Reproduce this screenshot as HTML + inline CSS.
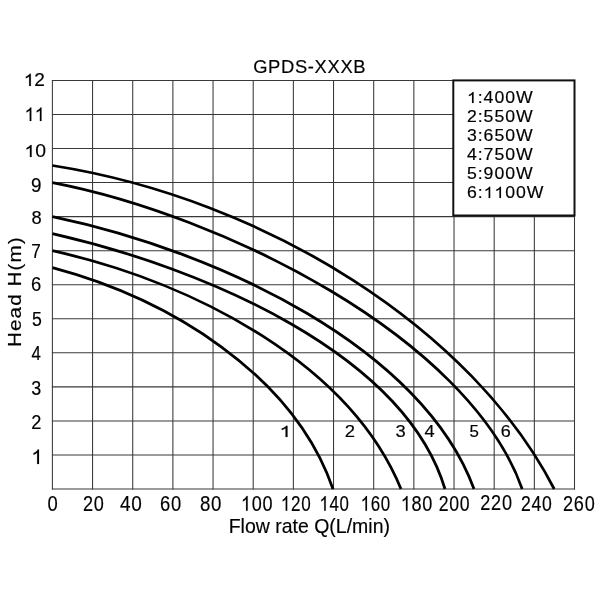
<!DOCTYPE html>
<html><head><meta charset="utf-8"><title>GPDS-XXXB</title>
<style>
html,body{margin:0;padding:0;background:#fff;}
body{width:600px;height:600px;overflow:hidden;font-family:"Liberation Sans",sans-serif;}
svg{display:block;will-change:transform;}
svg text{font-family:"Liberation Sans",sans-serif;fill:#000;stroke:#000;stroke-width:0.16px;stroke-linejoin:round;}
svg g.t path{fill:#000;stroke:#000;stroke-width:16px;stroke-linejoin:round;}
</style></head><body>
<svg width="600" height="600" viewBox="0 0 600 600">
<rect width="600" height="600" fill="#fff"/>
<g stroke="#383838" stroke-width="1.05" fill="none">
<line x1="52.40" y1="79.90" x2="52.40" y2="489.50"/>
<line x1="92.56" y1="79.90" x2="92.56" y2="489.50"/>
<line x1="132.72" y1="79.90" x2="132.72" y2="489.50"/>
<line x1="172.88" y1="79.90" x2="172.88" y2="489.50"/>
<line x1="213.05" y1="79.90" x2="213.05" y2="489.50"/>
<line x1="253.21" y1="79.90" x2="253.21" y2="489.50"/>
<line x1="293.37" y1="79.90" x2="293.37" y2="489.50"/>
<line x1="333.53" y1="79.90" x2="333.53" y2="489.50"/>
<line x1="373.69" y1="79.90" x2="373.69" y2="489.50"/>
<line x1="413.85" y1="79.90" x2="413.85" y2="489.50"/>
<line x1="454.02" y1="79.90" x2="454.02" y2="489.50"/>
<line x1="494.18" y1="79.90" x2="494.18" y2="489.50"/>
<line x1="534.34" y1="79.90" x2="534.34" y2="489.50"/>
<line x1="574.50" y1="79.90" x2="574.50" y2="489.50"/>
<line x1="51.90" y1="80.40" x2="575.00" y2="80.40"/>
<line x1="51.90" y1="114.45" x2="575.00" y2="114.45"/>
<line x1="51.90" y1="148.50" x2="575.00" y2="148.50"/>
<line x1="51.90" y1="182.55" x2="575.00" y2="182.55"/>
<line x1="51.90" y1="216.60" x2="575.00" y2="216.60"/>
<line x1="51.90" y1="250.65" x2="575.00" y2="250.65"/>
<line x1="51.90" y1="284.70" x2="575.00" y2="284.70"/>
<line x1="51.90" y1="318.75" x2="575.00" y2="318.75"/>
<line x1="51.90" y1="352.80" x2="575.00" y2="352.80"/>
<line x1="51.90" y1="386.85" x2="575.00" y2="386.85"/>
<line x1="51.90" y1="420.90" x2="575.00" y2="420.90"/>
<line x1="51.90" y1="454.95" x2="575.00" y2="454.95"/>
<line x1="51.90" y1="489.00" x2="575.00" y2="489.00"/>
</g>
<g stroke="#000" stroke-width="2.75" fill="none" stroke-linecap="butt">
<path d="M52.40,267.70 C168.34,298.62 293.16,373.88 333.00,489.00"/>
<path d="M52.40,250.65 C198.34,283.53 350.42,365.59 401.00,489.00"/>
<path d="M52.40,233.60 C205.37,268.39 404.38,354.04 445.00,489.00"/>
<path d="M52.40,216.60 C221.39,252.01 422.66,348.75 474.00,489.00"/>
<path d="M52.40,182.55 C221.78,215.04 468.18,336.56 522.20,489.00"/>
<path d="M52.40,165.50 C266.98,199.25 472.77,330.10 554.20,489.00"/>
</g>
<rect x="453.3" y="80.4" width="121.2" height="135.1" fill="#fff" stroke="#111" stroke-width="2"/>
<g class="t">
<g transform="matrix(1.1000,0,0,1.0000,467.000,103.100)"><path transform="translate(0.000,0) scale(0.007842,-0.007842)" d="M763 0H583V1098Q518 1039 412.5 979T223 890V1057Q374 1125 487 1221T647 1409H763Z"/><text x="9.792" y="0" font-size="16.06">:</text><text x="15.114" y="0" font-size="16.06">4</text><text x="24.906" y="0" font-size="16.06">0</text><text x="34.697" y="0" font-size="16.06">0</text><text x="44.489" y="0" font-size="16.06">W</text></g>
<g transform="matrix(1.1000,0,0,1.0000,467.000,122.060)"><text x="0.000" y="0" font-size="16.06">2</text><text x="9.792" y="0" font-size="16.06">:</text><text x="15.114" y="0" font-size="16.06">5</text><text x="24.906" y="0" font-size="16.06">5</text><text x="34.697" y="0" font-size="16.06">0</text><text x="44.489" y="0" font-size="16.06">W</text></g>
<g transform="matrix(1.1000,0,0,1.0000,467.000,141.020)"><text x="0.000" y="0" font-size="16.06">3</text><text x="9.792" y="0" font-size="16.06">:</text><text x="15.114" y="0" font-size="16.06">6</text><text x="24.906" y="0" font-size="16.06">5</text><text x="34.697" y="0" font-size="16.06">0</text><text x="44.489" y="0" font-size="16.06">W</text></g>
<g transform="matrix(1.1000,0,0,1.0000,467.000,159.980)"><text x="0.000" y="0" font-size="16.06">4</text><text x="9.792" y="0" font-size="16.06">:</text><text x="15.114" y="0" font-size="16.06">7</text><text x="24.906" y="0" font-size="16.06">5</text><text x="34.697" y="0" font-size="16.06">0</text><text x="44.489" y="0" font-size="16.06">W</text></g>
<g transform="matrix(1.1000,0,0,1.0000,467.000,178.940)"><text x="0.000" y="0" font-size="16.06">5</text><text x="9.792" y="0" font-size="16.06">:</text><text x="15.114" y="0" font-size="16.06">9</text><text x="24.906" y="0" font-size="16.06">0</text><text x="34.697" y="0" font-size="16.06">0</text><text x="44.489" y="0" font-size="16.06">W</text></g>
<g transform="matrix(1.1000,0,0,1.0000,467.000,197.900)"><text x="0.000" y="0" font-size="16.06">6</text><text x="9.792" y="0" font-size="16.06">:</text><path transform="translate(15.114,0) scale(0.007842,-0.007842)" d="M763 0H583V1098Q518 1039 412.5 979T223 890V1057Q374 1125 487 1221T647 1409H763Z"/><path transform="translate(24.906,0) scale(0.007842,-0.007842)" d="M763 0H583V1098Q518 1039 412.5 979T223 890V1057Q374 1125 487 1221T647 1409H763Z"/><text x="34.697" y="0" font-size="16.06">0</text><text x="44.489" y="0" font-size="16.06">0</text><text x="54.281" y="0" font-size="16.06">W</text></g>
<g transform="matrix(1.0513,0,0,1.0250,253.175,72.725)"><text x="0.000" y="0" font-size="17.5">G</text><text x="14.212" y="0" font-size="17.5">P</text><text x="26.484" y="0" font-size="17.5">D</text><text x="39.722" y="0" font-size="17.5">S</text><text x="51.995" y="0" font-size="17.5">-</text><text x="58.422" y="0" font-size="17.5">X</text><text x="70.695" y="0" font-size="17.5">X</text><text x="82.967" y="0" font-size="17.5">X</text><text x="95.239" y="0" font-size="17.5">B</text></g>
<g transform="matrix(1.0608,0,0,0.9946,23.721,86.000)"><path transform="translate(0.000,0) scale(0.008789,-0.008789)" d="M763 0H583V1098Q518 1039 412.5 979T223 890V1057Q374 1125 487 1221T647 1409H763Z"/><text x="10.011" y="0" font-size="18">2</text></g>
<g transform="matrix(1.0165,0,0,1.0901,24.508,121.000)"><path transform="translate(0.000,0) scale(0.008789,-0.008789)" d="M763 0H583V1098Q518 1039 412.5 979T223 890V1057Q374 1125 487 1221T647 1409H763Z"/><path transform="translate(10.011,0) scale(0.008789,-0.008789)" d="M763 0H583V1098Q518 1039 412.5 979T223 890V1057Q374 1125 487 1221T647 1409H763Z"/></g>
<g transform="matrix(1.0773,0,0,0.9730,24.389,157.029)"><path transform="translate(0.000,0) scale(0.008789,-0.008789)" d="M763 0H583V1098Q518 1039 412.5 979T223 890V1057Q374 1125 487 1221T647 1409H763Z"/><text x="10.011" y="0" font-size="18">0</text></g>
<g transform="matrix(1.0464,0,0,1.1456,30.917,191.599)"><text x="0.000" y="0" font-size="18">9</text></g>
<g transform="matrix(1.0182,0,0,1.0515,31.404,224.215)"><text x="0.000" y="0" font-size="18">8</text></g>
<g transform="matrix(0.9532,0,0,1.1467,31.320,258.200)"><text x="0.000" y="0" font-size="18">7</text></g>
<g transform="matrix(1.0234,0,0,1.0829,31.065,290.810)"><text x="0.000" y="0" font-size="18">6</text></g>
<g transform="matrix(0.9843,0,0,1.1147,32.091,326.304)"><text x="0.000" y="0" font-size="18">5</text></g>
<g transform="matrix(0.9371,0,0,1.1547,31.613,360.300)"><text x="0.000" y="0" font-size="18">4</text></g>
<g transform="matrix(0.9960,0,0,1.1378,31.317,394.800)"><text x="0.000" y="0" font-size="18">3</text></g>
<g transform="matrix(1.0122,0,0,1.1378,31.284,428.800)"><text x="0.000" y="0" font-size="18">2</text></g>
<g transform="matrix(1.1588,0,0,1.1709,31.229,464.000)"><path transform="translate(0.000,0) scale(0.008789,-0.008789)" d="M763 0H583V1098Q518 1039 412.5 979T223 890V1057Q374 1125 487 1221T647 1409H763Z"/></g>
<g transform="matrix(0.8766,0,0,1.0223,47.581,510.740)"><text x="0.000" y="0" font-size="21">0</text></g>
<g transform="matrix(0.8639,0,0,1.0223,83.088,510.740)"><text x="0.000" y="0" font-size="21">2</text><text x="12.479" y="0" font-size="21">0</text></g>
<g transform="matrix(0.9057,0,0,1.0223,120.064,510.740)"><text x="0.000" y="0" font-size="21">4</text><text x="12.479" y="0" font-size="21">0</text></g>
<g transform="matrix(0.8756,0,0,1.0223,160.066,510.740)"><text x="0.000" y="0" font-size="21">6</text><text x="12.479" y="0" font-size="21">0</text></g>
<g transform="matrix(0.8896,0,0,1.0223,199.988,510.740)"><text x="0.000" y="0" font-size="21">8</text><text x="12.479" y="0" font-size="21">0</text></g>
<g transform="matrix(0.8604,0,0,1.0223,240.933,510.740)"><path transform="translate(0.000,0) scale(0.010254,-0.010254)" d="M763 0H583V1098Q518 1039 412.5 979T223 890V1057Q374 1125 487 1221T647 1409H763Z"/><text x="12.479" y="0" font-size="21">0</text><text x="24.958" y="0" font-size="21">0</text></g>
<g transform="matrix(0.8142,0,0,1.0223,280.838,510.740)"><path transform="translate(0.000,0) scale(0.010254,-0.010254)" d="M763 0H583V1098Q518 1039 412.5 979T223 890V1057Q374 1125 487 1221T647 1409H763Z"/><text x="12.479" y="0" font-size="21">2</text><text x="24.958" y="0" font-size="21">0</text></g>
<g transform="matrix(0.8052,0,0,1.0223,319.409,510.740)"><path transform="translate(0.000,0) scale(0.010254,-0.010254)" d="M763 0H583V1098Q518 1039 412.5 979T223 890V1057Q374 1125 487 1221T647 1409H763Z"/><text x="12.479" y="0" font-size="21">4</text><text x="24.958" y="0" font-size="21">0</text></g>
<g transform="matrix(0.8052,0,0,1.0223,360.659,510.740)"><path transform="translate(0.000,0) scale(0.010254,-0.010254)" d="M763 0H583V1098Q518 1039 412.5 979T223 890V1057Q374 1125 487 1221T647 1409H763Z"/><text x="12.479" y="0" font-size="21">6</text><text x="24.958" y="0" font-size="21">0</text></g>
<g transform="matrix(0.8634,0,0,1.0223,400.776,510.740)"><path transform="translate(0.000,0) scale(0.010254,-0.010254)" d="M763 0H583V1098Q518 1039 412.5 979T223 890V1057Q374 1125 487 1221T647 1409H763Z"/><text x="12.479" y="0" font-size="21">8</text><text x="24.958" y="0" font-size="21">0</text></g>
<g transform="matrix(0.8415,0,0,1.0223,438.861,510.740)"><text x="0.000" y="0" font-size="21">2</text><text x="12.479" y="0" font-size="21">0</text><text x="24.958" y="0" font-size="21">0</text></g>
<g transform="matrix(0.8630,0,0,1.0223,480.339,509.740)"><text x="0.000" y="0" font-size="21">2</text><text x="12.479" y="0" font-size="21">2</text><text x="24.958" y="0" font-size="21">0</text></g>
<g transform="matrix(0.8415,0,0,1.0223,521.111,510.740)"><text x="0.000" y="0" font-size="21">2</text><text x="12.479" y="0" font-size="21">4</text><text x="24.958" y="0" font-size="21">0</text></g>
<g transform="matrix(0.8630,0,0,1.0223,563.089,510.740)"><text x="0.000" y="0" font-size="21">2</text><text x="12.479" y="0" font-size="21">6</text><text x="24.958" y="0" font-size="21">0</text></g>
<g transform="matrix(1.3748,0,0,1.0175,279.305,437.000)"><path transform="translate(0.000,0) scale(0.007812,-0.007812)" d="M763 0H583V1098Q518 1039 412.5 979T223 890V1057Q374 1125 487 1221T647 1409H763Z"/></g>
<g transform="matrix(1.1524,0,0,1.0562,344.873,437.000)"><text x="0.000" y="0" font-size="16">2</text></g>
<g transform="matrix(1.1469,0,0,1.0240,395.601,436.640)"><text x="0.000" y="0" font-size="16">3</text></g>
<g transform="matrix(1.1411,0,0,1.0175,424.581,437.200)"><text x="0.000" y="0" font-size="16">4</text></g>
<g transform="matrix(1.0546,0,0,0.9943,469.624,436.745)"><text x="0.000" y="0" font-size="16">5</text></g>
<g transform="matrix(1.1242,0,0,1.0063,500.787,436.843)"><text x="0.000" y="0" font-size="16">6</text></g>
<g transform="matrix(0.9601,0,0,1.0152,228.651,533.433)"><text x="0.000" y="0" font-size="20.3">F</text><text x="12.400" y="0" font-size="20.3">l</text><text x="16.910" y="0" font-size="20.3">o</text><text x="28.200" y="0" font-size="20.3">w</text><text x="48.500" y="0" font-size="20.3">r</text><text x="55.260" y="0" font-size="20.3">a</text><text x="66.550" y="0" font-size="20.3">t</text><text x="72.190" y="0" font-size="20.3">e</text><text x="89.120" y="0" font-size="20.3">Q</text><text x="104.910" y="0" font-size="20.3">(</text><text x="111.670" y="0" font-size="20.3">L</text><text x="122.960" y="0" font-size="20.3">/</text><text x="128.600" y="0" font-size="20.3">m</text><text x="145.510" y="0" font-size="20.3">i</text><text x="150.020" y="0" font-size="20.3">n</text><text x="161.310" y="0" font-size="20.3">)</text></g>
<g transform="matrix(0,-1.1650,1.0010,0,20.811,347.001)"><text x="0.000" y="0" font-size="17.8">H</text><text x="13.755" y="0" font-size="17.8">e</text><text x="24.554" y="0" font-size="17.8">a</text><text x="35.354" y="0" font-size="17.8">d</text><text x="51.999" y="0" font-size="17.8">H</text><text x="65.753" y="0" font-size="17.8">(</text><text x="72.581" y="0" font-size="17.8">m</text><text x="88.308" y="0" font-size="17.8">)</text></g>
</g>
</svg>
</body></html>
